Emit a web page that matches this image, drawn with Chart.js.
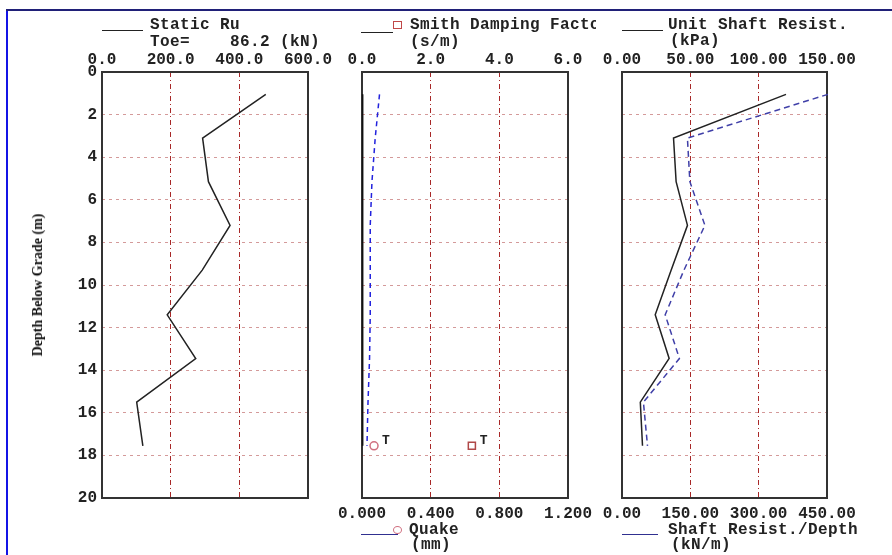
<!DOCTYPE html>
<html>
<head>
<meta charset="utf-8">
<script src="https://cdn.jsdelivr.net/npm/chart.js@4.4.1/dist/chart.umd.min.js"></script>
<style>
body{margin:0;background:#fff;}
#page{position:relative;width:892px;height:555px;overflow:hidden;background:#fff;}
.panel{position:absolute;top:0;height:555px;overflow:hidden;}
.panel canvas{position:absolute;left:0;top:0;}
.txt{position:absolute;font:bold 16px "Liberation Mono",monospace;letter-spacing:0.4px;line-height:16px;white-space:pre;color:#222;}
.key{position:absolute;height:0;border-top:1.5px solid #222;}
.sq{position:absolute;width:7px;height:6px;border:1.5px solid #c04848;}
.ci{position:absolute;width:7px;height:6px;border:1.5px solid #d07080;border-radius:50%;}
#ytitle{position:absolute;left:38px;top:285px;transform:translate(-50%,-50%) rotate(-90deg);font:bold 14px "Liberation Serif",serif;white-space:nowrap;color:#111;}
</style>
</head>
<body>
<div id="page">
  <div style="position:absolute;left:6px;top:9px;width:2px;height:546px;background:#1414e6;"></div>
  <div style="position:absolute;left:6px;top:9px;width:886px;height:2px;background:#202078;"></div>

  <div class="panel" style="left:0;width:336px;">
    <canvas id="c1" width="336" height="555"></canvas>
    <div class="key" style="left:102px;top:30px;width:41px;"></div>
    <div class="txt" style="left:150px;top:17px;">Static Ru</div>
    <div class="txt" style="left:150px;top:34px;">Toe=    86.2 (kN)</div>
    <div id="ytitle">Depth Below Grade (m)</div>
  </div>

  <div class="panel" style="left:336px;width:260px;">
    <canvas id="c2" width="260" height="555"></canvas>
    <div class="key" style="left:25px;top:32px;width:32px;"></div>
    <div class="sq" style="left:57px;top:21px;"></div>
    <div class="txt" style="left:74px;top:17px;">Smith Damping Factor</div>
    <div class="txt" style="left:74px;top:34px;">(s/m)</div>
    <div class="key" style="left:25px;top:534px;width:37px;border-color:#303090;"></div>
    <div class="ci" style="left:57px;top:526px;"></div>
    <div class="txt" style="left:73px;top:522px;">Quake</div>
    <div class="txt" style="left:75px;top:537px;">(mm)</div>
  </div>

  <div class="panel" style="left:596px;width:262px;">
    <canvas id="c3" width="262" height="555"></canvas>
    <div class="key" style="left:26px;top:30px;width:41px;"></div>
    <div class="txt" style="left:72px;top:17px;">Unit Shaft Resist.</div>
    <div class="txt" style="left:74px;top:33px;">(kPa)</div>
    <div class="key" style="left:26px;top:534px;width:36px;border-color:#303090;"></div>
    <div class="txt" style="left:72px;top:522px;">Shaft Resist./Depth</div>
    <div class="txt" style="left:75px;top:537px;">(kN/m)</div>
  </div>
</div>

<script>
// depth of each pile segment (m)
const depth = [1.05, 3.1, 5.15, 7.2, 9.3, 11.4, 13.45, 15.5, 17.55];
const staticRu = [477, 293, 310, 373, 292, 190, 273, 101, 119];          // kN
const smithDamping = [0.02, 0.02, 0.02, 0.02, 0.02, 0.02, 0.02, 0.02, 0.02]; // s/m
const quake = [0.102, 0.077, 0.058, 0.048, 0.048, 0.048, 0.044, 0.035, 0.029]; // mm
const unitShaft = [120, 37.7, 39.6, 47.9, 36, 24.3, 34.5, 13.4, 15];     // kPa
const shaftPerDepth = [452, 143.6, 149, 182, 136, 94.8, 126, 47, 56];    // kN/m

const toeDepth = 17.55;
const toeQuake = 0.07;
const toeDamping = 3.2;

const depthTicks = [0, 2, 4, 6, 8, 10, 12, 14, 16, 18, 20];
const ruTicks = [0, 200, 400, 600];
const dampTicks = [0, 2, 4, 6];
const quakeTicks = [0, 0.4, 0.8, 1.2];
const unitTicks = [0, 50, 100, 150];
const perDepthTicks = [0, 150, 300, 450];

const tickFont = {family: 'Liberation Mono', size: 16, weight: 'bold'};

function pts(xs) {
  return depth.map((d, i) => ({x: xs[i], y: d}));
}

// fixed axis sizes so the plot box lands where the original has it
function fixSize(s, w, h) {
  if (w != null) s.width = w;
  if (h != null) s.height = h;
  s.paddingLeft = 0; s.paddingRight = 0;
  s.paddingTop = 0; s.paddingBottom = 0;
}

function axisX(pos, ticks, digits, grid) {
  return {
    type: 'linear', position: pos,
    min: ticks[0], max: ticks[ticks.length - 1],
    afterBuildTicks: s => { s.ticks = ticks.map(v => ({value: v})); },
    afterFit: s => fixSize(s, null, 30),
    ticks: {font: tickFont, color: '#222', padding: pos == 'top' ? 2 : 6,
      maxRotation: 0, autoSkip: false, callback: v => Number(v).toFixed(digits)},
    grid: {display: grid, drawTicks: false, color: '#a82828', lineWidth: 1},
    border: {display: false, dash: [5, 3, 1, 3]}
  };
}

function axisY(labels) {
  return {
    type: 'linear', position: 'left', reverse: true, min: 0, max: 20,
    afterBuildTicks: s => { s.ticks = depthTicks.map(v => ({value: v})); },
    afterFit: s => fixSize(s, labels ? 40 : 0, null),
    ticks: {display: labels, font: tickFont, color: '#222', padding: 5},
    grid: {drawTicks: false, color: '#d49a9a', lineWidth: 1},
    border: {display: false, dash: [3, 4]}
  };
}

const framePlugin = {
  id: 'frame',
  beforeDatasetsDraw(chart) {
    const {ctx, chartArea: a} = chart;
    ctx.save();
    ctx.strokeStyle = '#333';
    ctx.lineWidth = 2;
    ctx.strokeRect(a.left, a.top, a.right - a.left, a.bottom - a.top);
    ctx.restore();
  },
  afterDatasetsDraw(chart) {
    const ctx = chart.ctx;
    chart.data.datasets.forEach((ds, i) => {
      if (!ds.toeLabel) return;
      const p = chart.getDatasetMeta(i).data[0];
      ctx.save();
      ctx.font = 'bold 13px "Liberation Mono"';
      ctx.fillStyle = '#222';
      ctx.textBaseline = 'middle';
      ctx.fillText(ds.toeLabel, p.x + 8, p.y - 5);
      ctx.restore();
    });
  }
};

function line(data, xAxis, color, dash) {
  return {data: data, xAxisID: xAxis, yAxisID: 'y', showLine: true,
    borderColor: color, borderWidth: 1.5, borderDash: dash || [],
    pointRadius: 0, fill: false, clip: 4};
}

function makeChart(id, datasets, scales, pad) {
  return new Chart(document.getElementById(id), {
    type: 'scatter',
    data: {datasets: datasets},
    options: {
      responsive: false, animation: false,
      layout: {padding: pad},
      plugins: {legend: {display: false}, tooltip: {enabled: false}},
      scales: scales
    },
    plugins: [framePlugin]
  });
}

makeChart('c1',
  [line(pts(staticRu), 'xt', '#222')],
  {xt: axisX('top', ruTicks, 1, true), y: axisY(true)},
  {left: 62, right: 28, top: 42, bottom: 57});

makeChart('c2',
  [
    line(pts(smithDamping), 'xt', '#111'),
    line(pts(quake), 'xb', '#2222dd', [5, 4]),
    {data: [{x: toeQuake, y: toeDepth}], xAxisID: 'xb', yAxisID: 'y', pointStyle: 'circle',
      pointRadius: 4, borderColor: '#d07080', backgroundColor: 'rgba(0,0,0,0)', borderWidth: 1.5, toeLabel: 'T'},
    {data: [{x: toeDamping, y: toeDepth}], xAxisID: 'xt', yAxisID: 'y', pointStyle: 'rect',
      pointRadius: 5, borderColor: '#b04848', backgroundColor: 'rgba(0,0,0,0)', borderWidth: 1.5, toeLabel: 'T'}
  ],
  {xt: axisX('top', dampTicks, 1, true), xb: axisX('bottom', quakeTicks, 3, false), y: axisY(false)},
  {left: 26, right: 28, top: 42, bottom: 27});

makeChart('c3',
  [
    line(pts(unitShaft), 'xt', '#222'),
    line(pts(shaftPerDepth), 'xb', '#4040a8', [6, 4])
  ],
  {xt: axisX('top', unitTicks, 2, true), xb: axisX('bottom', perDepthTicks, 2, false), y: axisY(false)},
  {left: 26, right: 31, top: 42, bottom: 27});
</script>
</body>
</html>
